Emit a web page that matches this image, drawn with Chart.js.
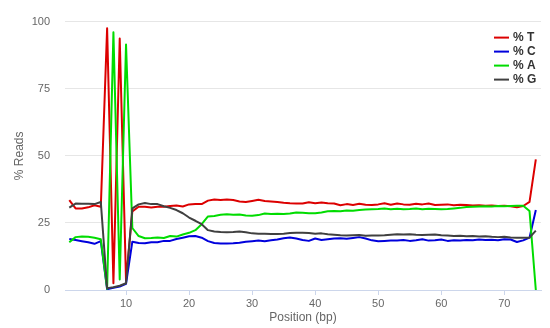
<!DOCTYPE html>
<html>
<head>
<meta charset="utf-8">
<script src="https://cdn.jsdelivr.net/npm/chart.js@4"></script>
<style>
  html, body { margin: 0; padding: 0; background: #fff; }
  #wrap { width: 550px; height: 328px; }
</style>
</head>
<body>
<div id="wrap"><canvas id="chart"></canvas></div>
<script>
// per base sequence content, position 1..75
const positions = [1, 2, 3, 4, 5, 6, 7, 8, 9, 10, 11, 12, 13, 14, 15, 16, 17, 18, 19, 20,
    21, 22, 23, 24, 25, 26, 27, 28, 29, 30, 31, 32, 33, 34, 35, 36, 37, 38, 39, 40,
    41, 42, 43, 44, 45, 46, 47, 48, 49, 50, 51, 52, 53, 54, 55, 56, 57, 58, 59, 60,
    61, 62, 63, 64, 65, 66, 67, 68, 69, 70, 71, 72, 73, 74, 75];

const pctT = [33.5, 30.4, 30.4, 30.8, 31.6, 31.0, 97.5, 2.5, 93.7, 3.5,
    29.3, 31.0, 31.0, 30.7, 31.0, 31.0, 31.3, 31.5, 31.1, 31.9,
    32.0, 32.0, 33.3, 33.7, 33.5, 33.7, 33.5, 33.0, 32.8, 33.2,
    33.6, 33.2, 33.0, 32.8, 32.5, 32.3, 32.2, 32.2, 32.7, 32.3,
    32.6, 32.3, 32.2, 31.6, 32.0, 31.7, 32.1, 31.8, 31.7, 31.9,
    32.3, 31.8, 32.2, 31.9, 31.8, 32.1, 31.9, 32.2, 31.7, 31.8,
    31.9, 31.6, 31.8, 31.7, 31.5, 31.6, 31.4, 31.5, 31.3, 31.4,
    31.2, 30.8, 31.3, 32.8, 48.7];

const pctC = [19.0, 18.6, 18.2, 17.8, 17.2, 18.2, 0.3, 0.8, 1.3, 2.3,
    18.0, 17.5, 17.4, 17.8, 17.8, 18.3, 18.3, 19.0, 19.5, 20.0,
    20.1, 19.5, 18.2, 17.5, 17.3, 17.3, 17.4, 17.6, 18.0, 18.2,
    18.4, 18.2, 18.5, 18.8, 19.3, 19.6, 19.2, 18.6, 18.3, 19.2,
    18.6, 18.9, 19.2, 19.3, 19.1, 19.4, 19.7, 19.2, 18.5, 18.2,
    18.3, 18.4, 18.4, 18.6, 18.3, 18.5, 18.9, 18.4, 18.5, 18.8,
    18.3, 18.5, 18.4, 18.6, 18.5, 18.8, 18.6, 18.7, 18.5, 18.9,
    18.8, 17.9, 18.5, 19.5, 29.8];

const pctA = [17.8, 19.7, 19.9, 19.8, 19.5, 18.9, 0.5, 96.0, 3.9, 91.5,
    23.1, 20.1, 19.3, 19.4, 19.6, 19.4, 20.1, 19.9, 20.7, 21.3,
    22.3, 24.5, 27.4, 27.6, 28.0, 28.2, 28.0, 28.1, 27.8, 27.7,
    27.9, 28.5, 28.3, 28.4, 28.3, 28.5, 28.9, 28.8, 28.6, 28.6,
    28.9, 29.3, 29.4, 29.3, 29.6, 29.5, 29.8, 30.0, 30.1, 30.2,
    30.4, 30.1, 30.3, 30.1, 30.2, 30.4, 30.1, 30.3, 30.2, 30.1,
    30.2, 30.4, 30.6, 30.9, 31.0, 31.1, 31.2, 31.1, 31.3, 31.2,
    31.3, 31.4, 31.4, 29.4, 0.0];

const pctG = [30.7, 32.2, 32.1, 32.1, 32.0, 32.8, 0.7, 1.0, 1.6, 2.5,
    30.4, 31.9, 32.4, 32.0, 32.0, 31.2, 30.6, 29.8, 28.6, 27.0,
    25.8, 24.5, 22.3, 21.8, 21.6, 21.5, 21.6, 21.8, 21.5, 21.1,
    21.0, 21.0, 20.9, 20.9, 21.0, 21.2, 21.3, 21.3, 21.2, 21.0,
    21.1, 20.8, 20.6, 20.4, 20.3, 20.4, 20.5, 20.2, 20.3, 20.3,
    20.4, 20.6, 20.8, 20.7, 20.8, 20.6, 20.5, 20.6, 20.7, 20.4,
    20.3, 20.1, 20.2, 20.0, 20.1, 19.9, 20.0, 19.8, 19.7, 19.8,
    19.6, 19.5, 19.5, 19.5, 22.1];

const xTicks = [10, 20, 30, 40, 50, 60, 70];
const yTicks = [0, 25, 50, 75, 100];

const seriesNames = ["% T", "% C", "% A", "% G"];
const seriesColors = ["#dc0000", "#0000dc", "#00dc00", "#404040"];
const seriesValues = [pctT, pctC, pctA, pctG];

const FONT = '"Lucida Grande", "Liberation Sans", Arial, sans-serif';

// legend sits inside the plot, top right, like the original
const insideLegend = {
    id: "insideLegend",
    afterDraw(chart) {
        const ctx = chart.ctx;
        const x0 = chart.chartArea.right - 47;
        const y0 = chart.chartArea.top + 16;
        ctx.save();
        ctx.font = "bold 12px " + FONT;
        ctx.textBaseline = "middle";
        seriesNames.forEach((name, i) => {
            const y = y0 + i * 14;
            ctx.strokeStyle = seriesColors[i];
            ctx.lineWidth = 2;
            ctx.beginPath();
            ctx.moveTo(x0, y);
            ctx.lineTo(x0 + 15, y);
            ctx.stroke();
            ctx.fillStyle = "#333333";
            ctx.fillText(name, x0 + 19, y);
        });
        ctx.restore();
    }
};

const datasets = seriesNames.map((name, i) => ({
    label: name,
    data: positions.map((p, j) => ({ x: p, y: seriesValues[i][j] })),
    borderColor: seriesColors[i],
    backgroundColor: seriesColors[i],
    borderWidth: 2,
    pointRadius: 0,
    tension: 0,
    borderJoinStyle: "round",
    order: 4 - i
}));

new Chart(document.getElementById("chart"), {
    type: "line",
    data: { datasets },
    plugins: [insideLegend],
    options: {
        responsive: true,
        maintainAspectRatio: false,
        animation: false,
        layout: { padding: { top: 16, right: 9, bottom: 0, left: 0 } },
        plugins: {
            legend: { display: false },
            tooltip: { enabled: false }
        },
        scales: {
            x: {
                type: "linear",
                min: 0.32,
                max: 75.82,
                afterBuildTicks: (scale) => { scale.ticks = xTicks.map(v => ({ value: v })); },
                afterFit: (scale) => { scale.height = 38; },
                grid: { drawOnChartArea: false, drawTicks: true, tickLength: 5, color: "#ccd6eb" },
                border: { color: "#ccd6eb", width: 1 },
                ticks: {
                    color: "#666666",
                    font: { family: FONT, size: 11 },
                    padding: 2,
                    maxRotation: 0
                },
                title: {
                    display: true,
                    text: "Position (bp)",
                    color: "#666666",
                    font: { family: FONT, size: 12 },
                    padding: { top: 0, bottom: 3 }
                }
            },
            y: {
                min: 0,
                max: 100,
                afterBuildTicks: (scale) => { scale.ticks = yTicks.map(v => ({ value: v })); },
                afterFit: (scale) => { scale.width = 65; },
                grid: { color: "#e6e6e6", drawTicks: false },
                border: { display: false },
                ticks: {
                    color: "#666666",
                    font: { family: FONT, size: 11 },
                    padding: 15
                },
                title: {
                    display: true,
                    text: "% Reads",
                    color: "#666666",
                    font: { family: FONT, size: 12 },
                    padding: { top: 12, bottom: 0 }
                }
            }
        }
    }
});
</script>
</body>
</html>
